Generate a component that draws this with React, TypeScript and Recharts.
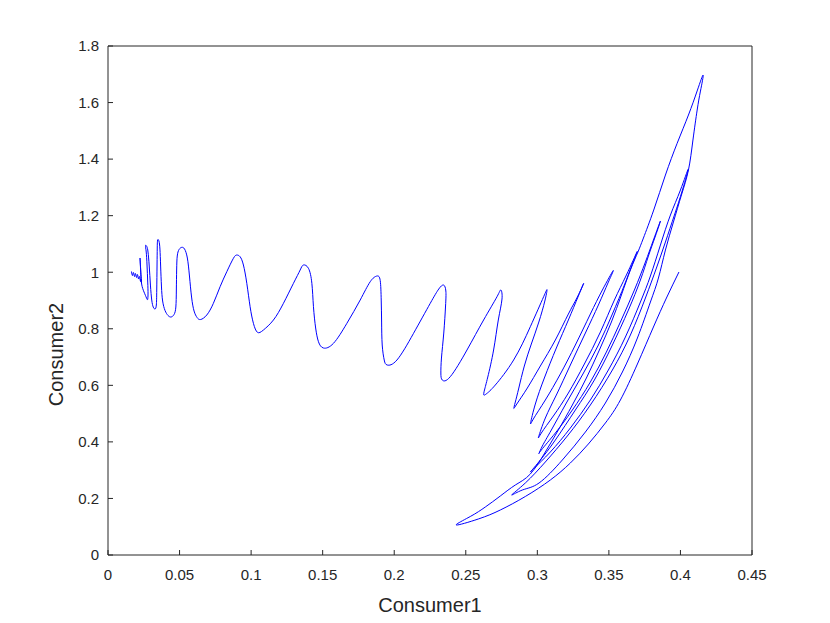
import React from 'react';
import { LineChart, Line, XAxis, YAxis } from 'recharts';

// trajectory, left end (noisy tail) to the start point at (0.4, 1)
const consumer1 = [
  0.01643, 0.01713, 0.01783, 0.01853, 0.01923, 0.01993, 0.02063, 0.02133, 0.02203, 0.02273,
  0.02308, 0.02343, 0.0228, 0.02238, 0.02287, 0.0235, 0.02517, 0.02692, 0.02769, 0.02797,
  0.02776, 0.02727, 0.02671, 0.02622, 0.02713, 0.02797, 0.02881, 0.02965, 0.03056, 0.03161,
  0.03287, 0.03378, 0.03406, 0.03427, 0.03441, 0.03469, 0.03559, 0.03629, 0.03678, 0.03734,
  0.03818, 0.03986, 0.04196, 0.04406, 0.04615, 0.04741, 0.04776, 0.04797, 0.04839, 0.04965,
  0.05154, 0.0535, 0.05545, 0.05692, 0.05839, 0.06014, 0.06224, 0.06469, 0.06902, 0.07364,
  0.07832, 0.08301, 0.08762, 0.09, 0.09231, 0.09462, 0.09699, 0.0993, 0.10161, 0.10441,
  0.1086, 0.11559, 0.12259, 0.12958, 0.13427, 0.13657, 0.14007, 0.14245, 0.14357, 0.1451,
  0.14706, 0.15056, 0.15755, 0.16692, 0.17622, 0.18322, 0.1879, 0.19021, 0.19091, 0.19119,
  0.19161, 0.19301, 0.1951, 0.20189, 0.2135, 0.22517, 0.23112, 0.23448, 0.23608, 0.23587,
  0.23462, 0.23301, 0.23259, 0.23357, 0.23916, 0.25084, 0.26245, 0.27182, 0.27462, 0.27531,
  0.27273, 0.26944, 0.26538, 0.26308, 0.26259, 0.26469, 0.27063, 0.28343, 0.2951, 0.30441,
  0.30678, 0.30524, 0.30105, 0.2958, 0.29091, 0.28706, 0.28462, 0.28357, 0.28566, 0.29301,
  0.3021, 0.31259, 0.32168, 0.32797, 0.33238, 0.32867, 0.32168, 0.31329, 0.3049, 0.2986,
  0.29531, 0.2972, 0.30559, 0.31608, 0.32657, 0.33706, 0.34545, 0.35294, 0.34965, 0.34266,
  0.33357, 0.32308, 0.31329, 0.30559, 0.30091, 0.3028, 0.31119, 0.32168, 0.33287, 0.34406,
  0.35385, 0.36224, 0.36972, 0.36643, 0.36084, 0.35245, 0.34266, 0.33147, 0.32028, 0.30979,
  0.3035, 0.30119, 0.3028, 0.31259, 0.32448, 0.33706, 0.34825, 0.35804, 0.36783, 0.37552,
  0.38112, 0.38601, 0.38252, 0.37762, 0.37203, 0.36364, 0.35245, 0.33986, 0.32657, 0.31259,
  0.3021, 0.29545, 0.2979, 0.30909, 0.32308, 0.33706, 0.34965, 0.36154, 0.37203, 0.37902,
  0.38601, 0.39301, 0.4, 0.40538, 0.4014, 0.3958, 0.38951, 0.38322, 0.37552, 0.36503,
  0.35245, 0.33706, 0.32098, 0.30559, 0.29161, 0.28203, 0.28951, 0.30119, 0.31748, 0.33357,
  0.34755, 0.35944, 0.36993, 0.37902, 0.38462, 0.38951, 0.3951, 0.4007, 0.40559, 0.40874,
  0.41168, 0.41399, 0.41587, 0.41189, 0.40559, 0.39769, 0.38951, 0.38133, 0.37413, 0.37028,
  0.36503, 0.35874, 0.35175, 0.34336, 0.33427, 0.32448, 0.31469, 0.30559, 0.2951, 0.28462,
  0.27413, 0.26364, 0.25315, 0.24336, 0.25874, 0.27413, 0.29161, 0.30909, 0.32308, 0.33566,
  0.34755, 0.35804, 0.36993, 0.38112, 0.39021, 0.39895,
];

const consumer2 = [
  1.0025, 0.9883, 0.9989, 0.9848, 0.9954, 0.9813, 0.9919, 0.976, 0.9848, 0.9671,
  0.976, 0.9618, 1.0078, 1.0502, 1.0042, 0.9583, 0.93, 0.9088, 0.9035, 0.9229,
  0.9653, 1.0255, 1.0714, 1.0944, 1.0909, 1.0714, 1.0219, 0.9547, 0.9017, 0.8769,
  0.8699, 0.884, 0.9371, 1.0255, 1.0856, 1.1139, 1.1103, 1.082, 1.0219, 0.9512,
  0.8982, 0.8646, 0.8469, 0.8416, 0.8504, 0.8769, 0.9371, 1.0078, 1.0573, 1.0803,
  1.088, 1.082, 1.0502, 0.9866, 0.9123, 0.8628, 0.8398, 0.8327, 0.8487, 0.89,
  0.9487, 1.0018, 1.0492, 1.0608, 1.0548, 1.0255, 0.9607, 0.878, 0.8193, 0.7875,
  0.7956, 0.831, 0.89, 0.9607, 1.0078, 1.0255, 1.0138, 0.9607, 0.878, 0.8027,
  0.7542, 0.732, 0.7486, 0.8193, 0.9017, 0.9664, 0.9866, 0.9706, 0.9017, 0.8239,
  0.7426, 0.6895, 0.6719, 0.6895, 0.7839, 0.89, 0.9406, 0.9547, 0.9335, 0.8805,
  0.785, 0.6966, 0.6436, 0.6188, 0.6305, 0.7249, 0.831, 0.9134, 0.9371, 0.9052,
  0.831, 0.7249, 0.6294, 0.5835, 0.5658, 0.5711, 0.6011, 0.6895, 0.8073, 0.9134,
  0.9371, 0.8982, 0.8239, 0.7461, 0.6683, 0.5905, 0.541, 0.5187, 0.5339, 0.5905,
  0.6683, 0.7603, 0.8522, 0.9123, 0.9607, 0.9158, 0.831, 0.732, 0.6259, 0.5339,
  0.4678, 0.4809, 0.5481, 0.64, 0.7426, 0.8522, 0.9371, 1.0053, 0.9653, 0.884,
  0.785, 0.6719, 0.5658, 0.4844, 0.4183, 0.4314, 0.4915, 0.5728, 0.6754, 0.7885,
  0.9017, 0.9901, 1.0725, 1.029, 0.9547, 0.8522, 0.7426, 0.6365, 0.5375, 0.442,
  0.3854, 0.3596, 0.3713, 0.4314, 0.5127, 0.6117, 0.7178, 0.8239, 0.9371, 1.0361,
  1.1139, 1.181, 1.128, 1.0573, 0.9724, 0.8663, 0.7426, 0.6188, 0.5127, 0.4066,
  0.3359, 0.2953, 0.3076, 0.3642, 0.4491, 0.5481, 0.6542, 0.7709, 0.8946, 0.9866,
  1.0962, 1.2023, 1.2907, 1.3639, 1.2907, 1.2023, 1.1068, 1.0148, 0.9088, 0.7779,
  0.6542, 0.5304, 0.4208, 0.3289, 0.2546, 0.2122, 0.2298, 0.2546, 0.3359, 0.4349,
  0.5375, 0.6471, 0.7673, 0.8946, 0.9795, 1.0785, 1.1775, 1.273, 1.3614, 1.4675,
  1.5736, 1.6407, 1.6973, 1.6443, 1.5559, 1.4558, 1.3437, 1.2199, 1.1209, 1.0714,
  1.0078, 0.9194, 0.8239, 0.7249, 0.6259, 0.5304, 0.442, 0.3642, 0.2864, 0.2475,
  0.2086, 0.1697, 0.1361, 0.1061, 0.1273, 0.1591, 0.2069, 0.2652, 0.3253, 0.3925,
  0.4668, 0.5481, 0.6754, 0.8062, 0.9088, 1.0007,
];

const xTicks = [0, 0.05, 0.1, 0.15, 0.2, 0.25, 0.3, 0.35, 0.4, 0.45];
const yTicks = [0, 0.2, 0.4, 0.6, 0.8, 1, 1.2, 1.4, 1.6, 1.8];

const data = consumer1.map((x, i) => ({ x, y: consumer2[i] }));

const AXIS_COLOR = '#262626';
const FONT = '"Liberation Sans", Arial, Helvetica, sans-serif';

const XLabel = (props: any) => {
  const { viewBox } = props;
  return (
    <text
      x={viewBox.x + viewBox.width / 2}
      y={viewBox.y + 57}
      textAnchor="middle"
      fill={AXIS_COLOR}
      fontSize={20}
      fontFamily={FONT}
    >
      Consumer1
    </text>
  );
};

const YLabel = (props: any) => {
  const { viewBox } = props;
  const cx = viewBox.x + 15;
  const cy = viewBox.y + viewBox.height / 2 + 54;
  return (
    <text
      x={cx}
      y={cy}
      transform={`rotate(-90 ${cx} ${cy})`}
      textAnchor="middle"
      fill={AXIS_COLOR}
      fontSize={20}
      fontFamily={FONT}
    >
      Consumer2
    </text>
  );
};

export default function App() {
  const tickStyle = { fill: AXIS_COLOR, fontSize: 15, fontFamily: FONT };
  return (
    <div style={{ position: 'absolute', left: 0, top: 0, width: 830, height: 623, background: '#fff' }}>
      <LineChart width={830} height={623} data={data} margin={{ top: 45, right: 77, left: 48, bottom: 38 }}>
        <XAxis
          dataKey="x"
          type="number"
          domain={[0, 0.45]}
          ticks={xTicks}
          interval={0}
          height={30}
          tickSize={-5}
          tickMargin={19}
          stroke={AXIS_COLOR}
          tick={tickStyle}
          label={XLabel}
        />
        <XAxis
          xAxisId="top"
          orientation="top"
          type="number"
          domain={[0, 0.45]}
          ticks={xTicks}
          interval={0}
          height={1}
          tickSize={-5}
          tick={false}
          stroke={AXIS_COLOR}
        />
        <YAxis
          type="number"
          domain={[0, 1.8]}
          ticks={yTicks}
          interval={0}
          width={60}
          tickSize={-5}
          tickMargin={14}
          stroke={AXIS_COLOR}
          tick={tickStyle}
          label={YLabel}
        />
        <YAxis
          yAxisId="right"
          orientation="right"
          type="number"
          domain={[0, 1.8]}
          ticks={yTicks}
          interval={0}
          width={1}
          tickSize={-5}
          tick={false}
          stroke={AXIS_COLOR}
        />
        <Line
          type="natural"
          dataKey="y"
          stroke="#0000ff"
          strokeWidth={1}
          dot={false}
          activeDot={false}
          isAnimationActive={false}
        />
      </LineChart>
    </div>
  );
}
